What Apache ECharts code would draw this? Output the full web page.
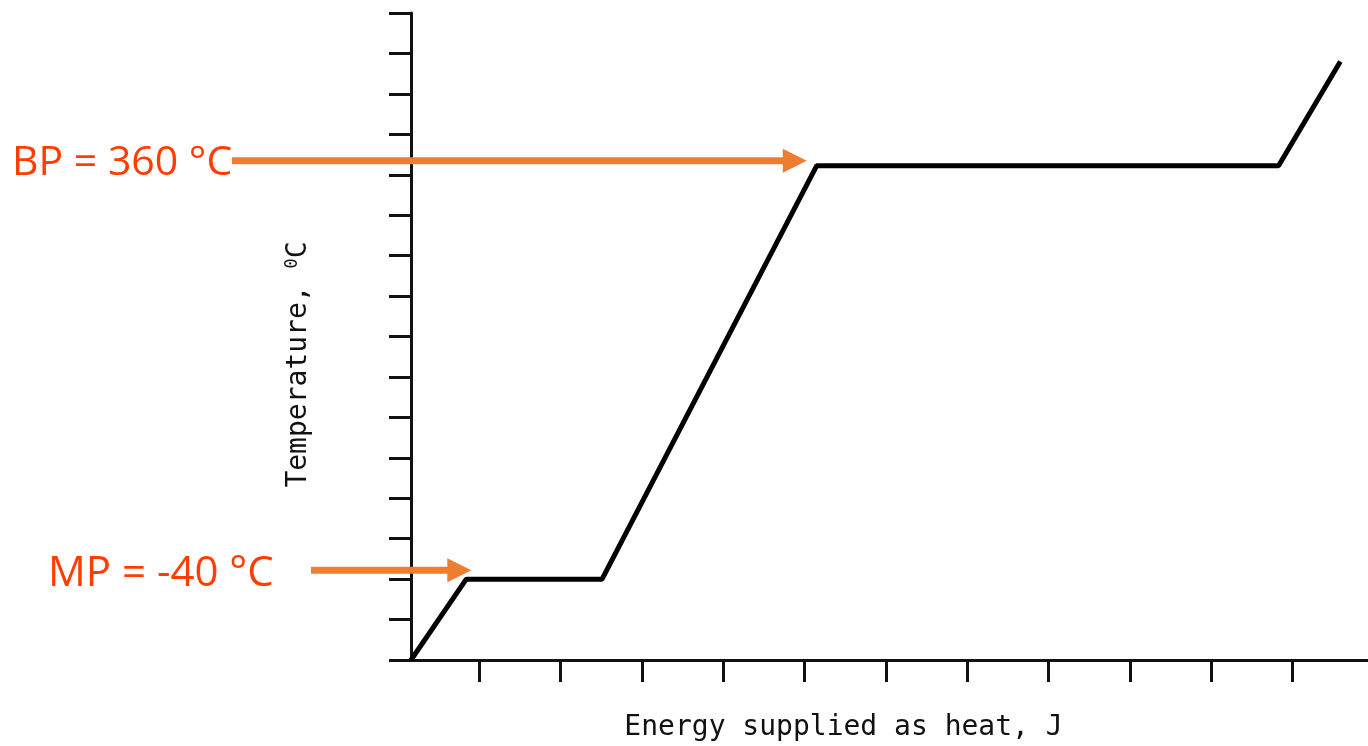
<!DOCTYPE html>
<html>
<head>
<meta charset="utf-8">
<script src="https://cdn.jsdelivr.net/npm/echarts@6/dist/echarts.min.js"></script>
<style>
  html, body { margin: 0; padding: 0; background: #fff; }
  #main { width: 1368px; height: 746px; }
</style>
</head>
<body>
<div id="main"></div>
<script>
var myChart = echarts.init(document.getElementById('main'));

// heating curve, energy in tick units, temperature in °C
var energy = [0.16, 0.84, 2.51, 5.15, 10.83, 11.59];
var temperature = [-120, -40, -40, 369, 369, 472];
var energyTicks = [1, 2, 3, 4, 5, 6, 7, 8, 9, 10, 11];

var labels = ['BP = 360 °C', 'MP = -40 °C'];

var points = [];
for (var i = 0; i < energy.length; i++) {
    points.push([energy[i], temperature[i]]);
}

var option = {
    animation: false,
    backgroundColor: '#fff',
    grid: {
        left: 411,
        right: 0,
        top: 13,
        bottom: 86,
        outerBoundsMode: 'none'
    },
    xAxis: {
        type: 'value',
        min: 0.16,
        max: 11.93,
        name: 'Energy supplied as heat, J',
        nameLocation: 'middle',
        nameGap: 54,
        nameTextStyle: {
            fontFamily: 'DejaVu Sans Mono',
            fontSize: 28,
            color: '#111',
            padding: [0, 92, 0, 0]
        },
        axisLine: { onZero: false, lineStyle: { color: '#111', width: 3 } },
        axisTick: {
            show: true,
            length: 22,
            customValues: energyTicks,
            lineStyle: { color: '#111', width: 3 }
        },
        axisLabel: { show: false },
        splitLine: { show: false }
    },
    yAxis: {
        type: 'value',
        min: -120,
        max: 520,
        interval: 40,
        name: 'Temperature, {sup|0}C',
        nameLocation: 'middle',
        nameGap: 98,
        nameTextStyle: {
            fontFamily: 'DejaVu Sans Mono',
            fontSize: 28,
            color: '#111',
            padding: [0, 56, 0, 0],
            rich: {
                sup: {
                    fontFamily: 'DejaVu Sans Mono',
                    fontSize: 17,
                    color: '#111',
                    verticalAlign: 'top',
                    padding: [0, 0, 12, 0]
                }
            }
        },
        axisLine: { onZero: false, lineStyle: { color: '#111', width: 3 } },
        axisTick: {
            show: true,
            length: 22,
            lineStyle: { color: '#111', width: 3 }
        },
        axisLabel: { show: false },
        splitLine: { show: false }
    },
    series: [
        {
            type: 'line',
            data: points,
            symbol: 'none',
            lineStyle: { color: '#000', width: 5 },
            z: 3
        }
    ]
};

myChart.setOption(option);

// arrows pointing at the two plateaus
var bpTip = myChart.convertToPixel({ gridIndex: 0 }, [energy[3], temperature[3]]);
var mpTip = myChart.convertToPixel({ gridIndex: 0 }, [energy[1], temperature[1]]);
bpTip = [bpTip[0] - 10, bpTip[1] - 5];
mpTip = [mpTip[0] + 5, mpTip[1] - 9];

function arrow(x0, tip) {
    var orange = '#ED7D31';
    return [
        {
            type: 'line',
            shape: { x1: x0, y1: tip[1], x2: tip[0] - 22, y2: tip[1] },
            style: { stroke: orange, lineWidth: 7 },
            z: 10
        },
        {
            type: 'polygon',
            shape: { points: [[tip[0] - 24, tip[1] - 12], [tip[0], tip[1]], [tip[0] - 24, tip[1] + 12]] },
            style: { fill: orange },
            z: 10
        }
    ];
}

myChart.setOption({
    graphic: arrow(232, bpTip).concat(arrow(311, mpTip)).concat([
        {
            type: 'text',
            left: 12,
            top: 143,
            style: { text: labels[0], fill: '#FF3D00', font: '41px "Open Sans"' },
            z: 10
        },
        {
            type: 'text',
            left: 48,
            top: 553,
            style: { text: labels[1], fill: '#FF3D00', font: '42px "Open Sans"' },
            z: 10
        }
    ])
});
</script>
</body>
</html>
